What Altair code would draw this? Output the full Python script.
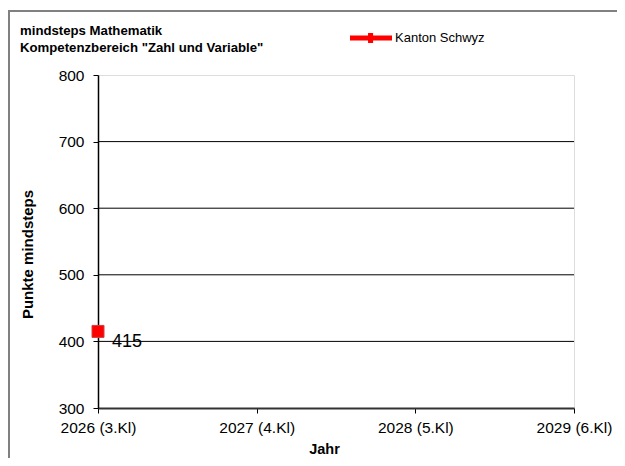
import altair as alt
import pandas as pd

years = ["2026 (3.Kl)", "2027 (4.Kl)", "2028 (5.Kl)", "2029 (6.Kl)"]
series_name = "Kanton Schwyz"
point_years = ["2026 (3.Kl)"]
point_values = [415]
grid_values = [400, 500, 600, 700]
y_ticks = [300, 400, 500, 600, 700, 800]
title_lines = ["mindsteps Mathematik", 'Kompetenzbereich "Zahl und Variable"']

FONT = "Liberation Sans"
W, H = 476, 333

df = pd.DataFrame({"jahr": point_years, "wert": point_values, "serie": [series_name] * len(point_years)})
grid_df = pd.DataFrame({"wert": grid_values})
one = pd.DataFrame({"a": [0]})

xscale = alt.Scale(domain=years, type="point", padding=0)
yscale = alt.Scale(domain=[300, 800], nice=False, zero=False)

yaxis = alt.Axis(title="Punkte mindsteps", values=y_ticks,
                 labelFont=FONT, labelFontSize=15.5, labelColor="black", labelPadding=9,
                 tickColor="black", tickSize=5, domainColor="black", domainWidth=1.5,
                 titleFont=FONT, titleFontSize=15, titleFontWeight="bold",
                 titleColor="black", titleX=-71, titleY=179, titleAngle=270,
                 titleAlign="center", titleBaseline="middle", grid=False)
xaxis = alt.Axis(title="Jahr", labelAngle=0, labelFont=FONT, labelFontSize=15.5,
                 labelColor="black", labelPadding=7, tickColor="black", tickSize=5,
                 domainColor="#333333", domainWidth=2, titleFont=FONT, titleFontSize=14.5,
                 titleFontWeight="bold", titleColor="black", titleX=226, titleY=41,
                 titleBaseline="middle", titleAlign="center", grid=False)

frame = alt.Chart(one).mark_rect(fill=None, stroke="#808080", strokeWidth=2).encode(
    x=alt.value(-89), x2=alt.value(W + 60), y=alt.value(-64), y2=alt.value(H + 80)
)

grid = alt.Chart(grid_df).mark_rule(color="black", strokeWidth=1).encode(
    y=alt.Y("wert:Q", scale=yscale, axis=yaxis)
)

base = alt.Chart(df).encode(
    x=alt.X("jahr:N", scale=xscale, sort=years, axis=xaxis),
    y=alt.Y("wert:Q", scale=yscale, axis=yaxis),
)

line = base.mark_line(strokeWidth=5, color="#ff0000")

legend_path = ("M-1,-0.12 L1,-0.12 L1,0.12 L-1,0.12 Z "
               "M-0.14,-0.24 L0.1,-0.24 L0.1,0.24 L-0.14,0.24 Z")

points = base.mark_point(shape="square", filled=True, size=144, stroke="#d04040",
                         strokeWidth=1, opacity=1).encode(
    color=alt.Color("serie:N", scale=alt.Scale(range=["#ff0000"]),
                    legend=alt.Legend(title=None, orient="none", legendX=252, legendY=-58,
                                      symbolType=legend_path, symbolSize=1764,
                                      symbolStrokeWidth=0, symbolOpacity=1,
                                      labelFont=FONT, labelFontSize=13, labelColor="black",
                                      labelOffset=3, padding=0))
)

labels = base.mark_text(align="left", baseline="middle", dx=14, dy=11, fontSize=18,
                        font=FONT, color="black").encode(text=alt.Text("wert:Q"))

t1 = alt.Chart(one).mark_text(align="left", baseline="middle", font=FONT, fontSize=13.2,
                               fontWeight="bold", color="black").encode(
    x=alt.value(-78), y=alt.value(-44), text=alt.value(title_lines[0]))
t2 = alt.Chart(one).mark_text(align="left", baseline="middle", font=FONT, fontSize=13.2,
                               fontWeight="bold", color="black").encode(
    x=alt.value(-78), y=alt.value(-27), text=alt.value(title_lines[1]))

chart = alt.layer(frame, grid, line, points, labels, t1, t2).properties(
    width=W, height=H,
    autosize=alt.AutoSizeParams(type="none"),
    padding={"left": 90, "top": 67, "right": 43, "bottom": 50},
).configure_view(stroke="#808080", strokeWidth=2).configure(background="white")

chart.save("out.html", embed_options={"renderer": "svg", "actions": False})
